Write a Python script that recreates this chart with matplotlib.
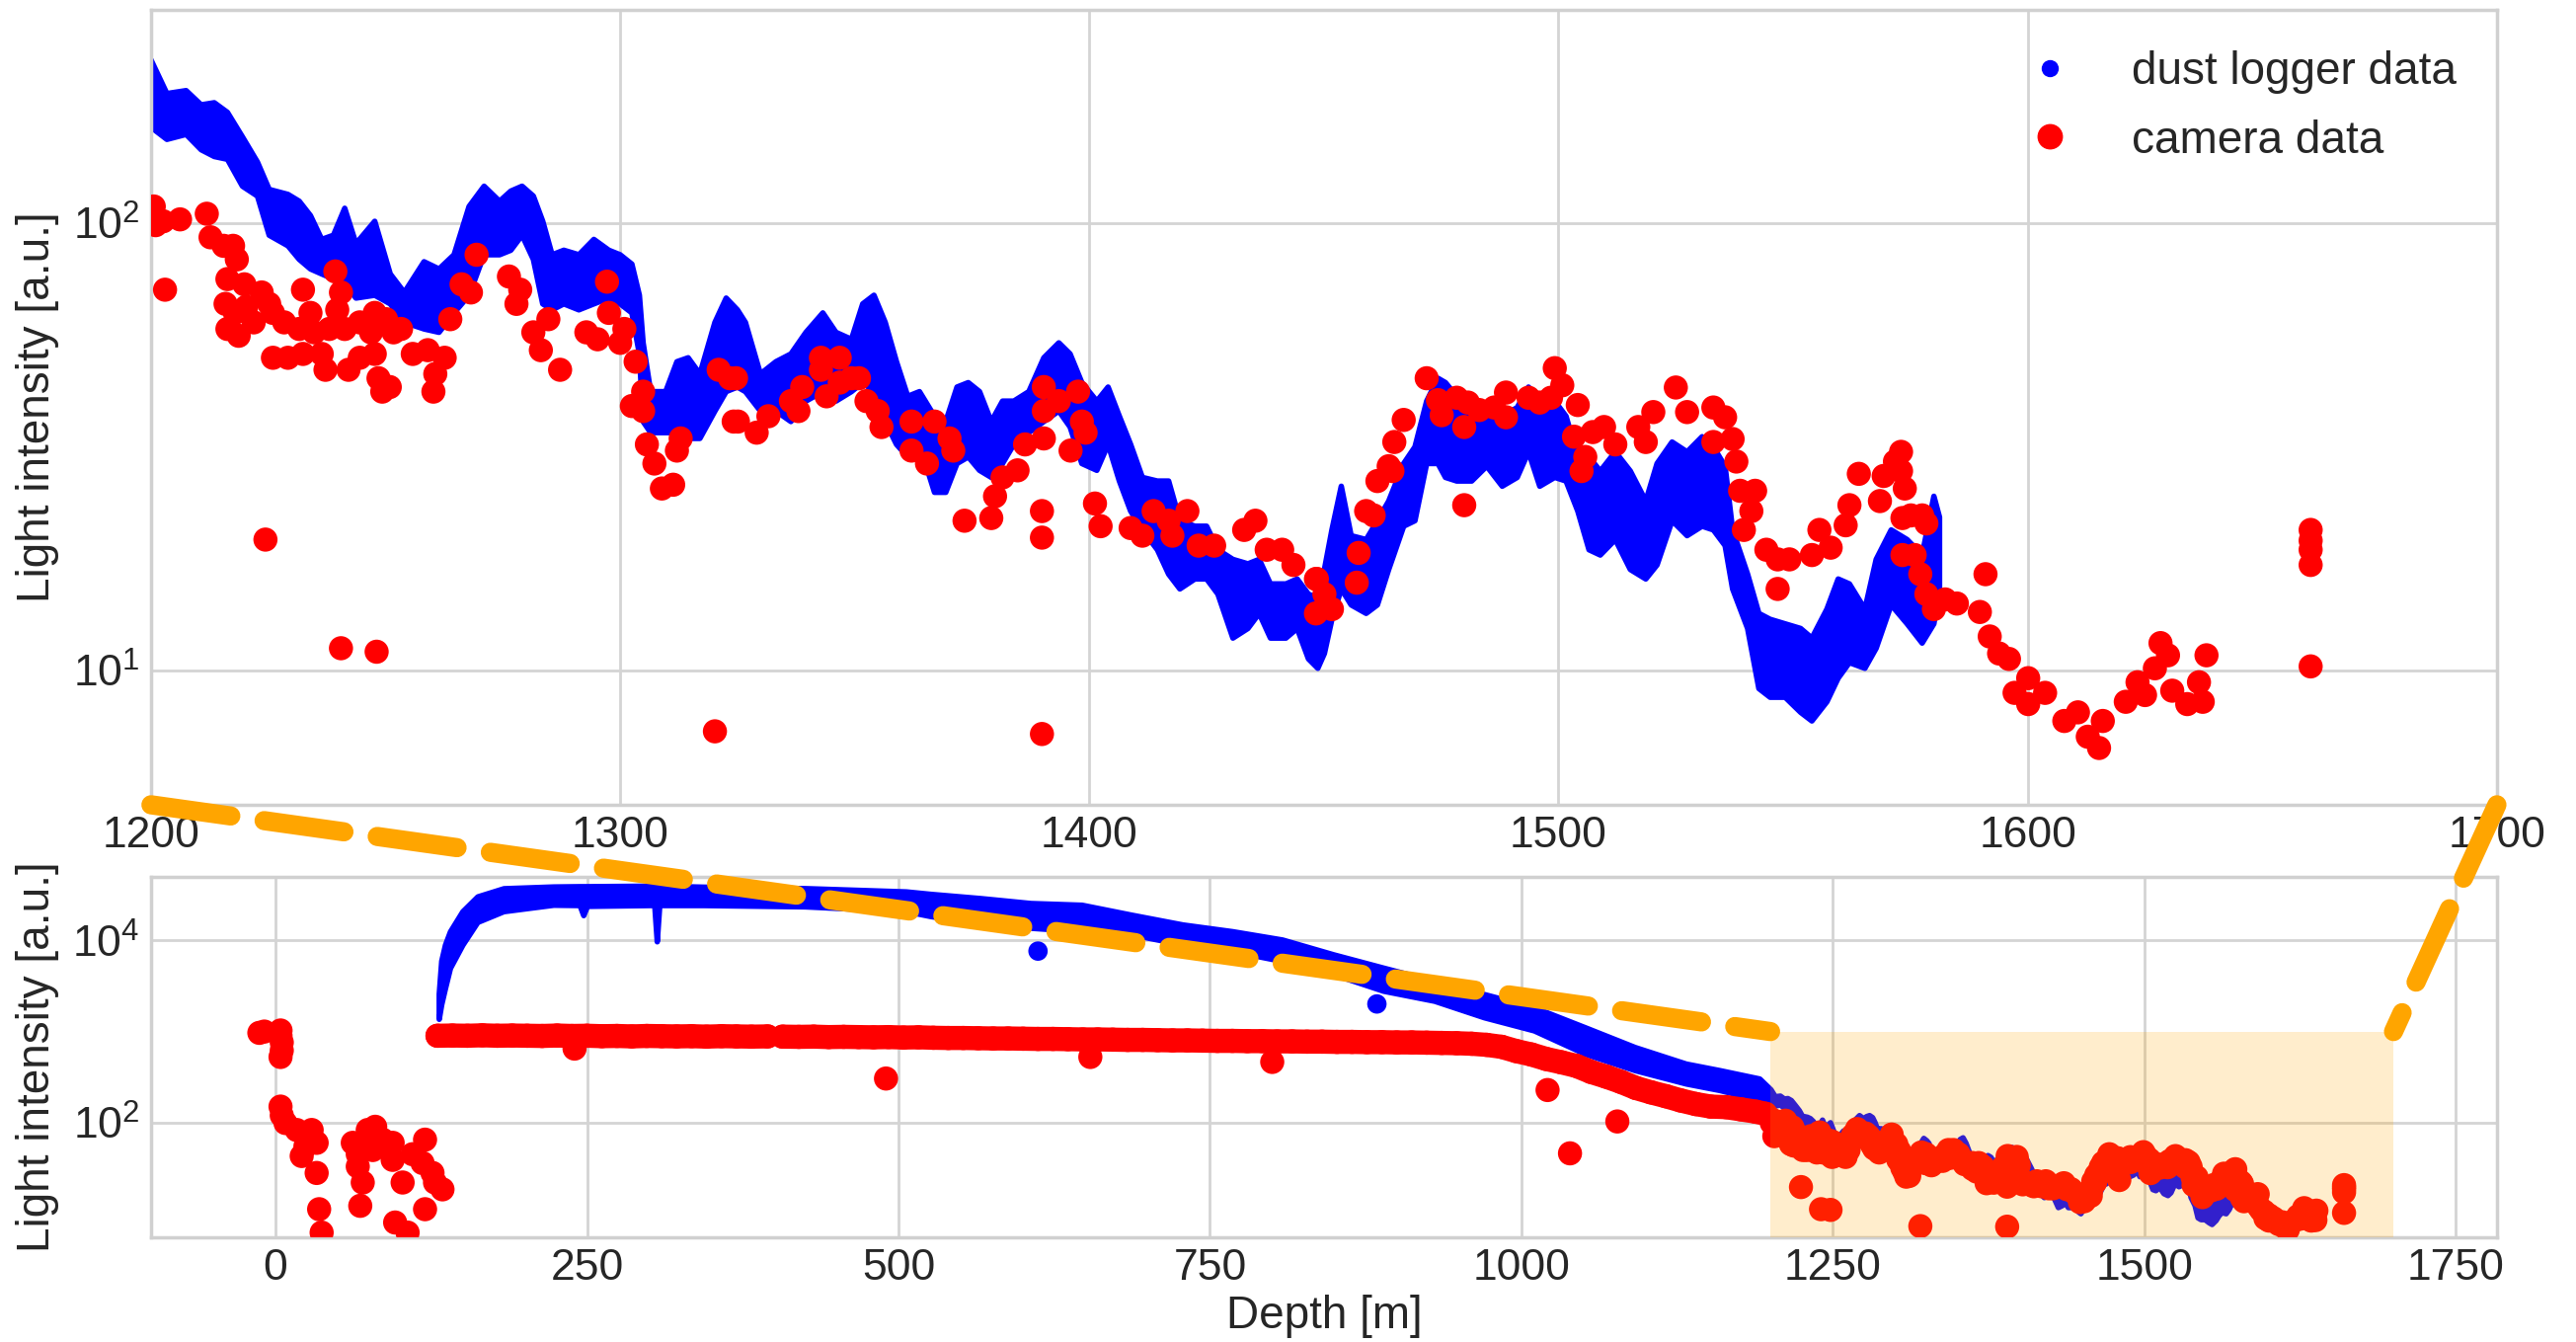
import numpy as np
import matplotlib
matplotlib.use("Agg")
import matplotlib.pyplot as plt
from matplotlib.patches import Rectangle, ConnectionPatch
from matplotlib.lines import Line2D

# --- data ------------------------------------------------------------------
# dust logger: depth [m], lower and upper edge of the (dense) point band [a.u.]
dust_shallow = [
    (131, 1380, 2600), (133, 2000, 6000), (136, 3000, 9000), (140, 5000, 12600),
    (150, 9000, 21000), (162, 16000, 30500), (183, 21000, 37500), (223, 24700, 39200),
    (244, 24500, 39500), (247, 19000, 39500), (250, 24000, 39500), (300, 24500, 40000),
    (304, 24500, 40000), (306, 9800, 40000), (308, 24500, 40000), (344, 24500, 39000),
    (425, 23700, 37600), (506, 21000, 34600), (526, 18500, 32500), (566, 15600, 29200),
    (606, 13800, 25800), (647, 12650, 24700), (687, 11650, 19200), (728, 9060, 15000),
    (768, 7650, 12650), (808, 5960, 10250), (849, 4270, 7050), (889, 2810, 5040),
    (930, 2180, 3600), (970, 1435, 2580), (1010, 1030, 1850), (1051, 571, 1115),
    (1091, 377, 676), (1132, 269, 445), (1159, 228, 377), (1191, 177, 305),
]
dust_deep = [
    (1200.0, 164, 232), (1203.4, 154, 195), (1207.5, 158, 198), (1210.7, 146, 184),
    (1213.5, 141, 186), (1216.3, 139, 177), (1219.5, 121, 156), (1222.7, 115, 137),
    (1225.2, 94, 119), (1229.2, 89, 116), (1231.6, 83, 112), (1234.0, 79, 104),
    (1236.4, 77, 92), (1238.9, 75, 94), (1241.3, 73, 108), (1243.7, 68, 90),
    (1247.7, 69, 101), (1251.0, 66, 77), (1254.0, 60, 70), (1258.2, 58, 82),
    (1261.4, 57, 79), (1264.6, 63, 85), (1267.8, 69, 109), (1271.0, 85, 121),
    (1274.3, 85, 112), (1276.7, 87, 118), (1279.1, 94, 121), (1281.5, 83, 115),
    (1283.5, 66, 101), (1285.5, 64, 85), (1288.0, 66, 87), (1291.2, 64, 85),
    (1294.4, 66, 92), (1297.6, 68, 87), (1300.0, 66, 85), (1302.5, 63, 81),
    (1304.1, 51, 69), (1304.9, 36, 54), (1306.5, 34, 42), (1309.7, 34, 42),
    (1312.1, 34, 49), (1314.5, 33, 50), (1317.0, 33, 46), (1320.2, 38, 60),
    (1322.6, 42, 68), (1325.0, 43, 64), (1326.7, 42, 60), (1329.9, 38, 46),
    (1333.2, 38, 49), (1336.4, 36, 51), (1339.6, 40, 57), (1343.2, 42, 63),
    (1346.0, 40, 57), (1349.3, 42, 55), (1351.7, 44, 66), (1354.1, 42, 69),
    (1356.5, 36, 60), (1358.9, 32, 49), (1361.3, 30, 41), (1363.8, 32, 42),
    (1367.0, 25, 37), (1369.4, 25, 36), (1371.8, 29, 43), (1374.2, 30, 44),
    (1376.6, 28, 42), (1379.1, 27, 36), (1381.5, 29, 40), (1383.9, 32, 40),
    (1387.1, 34, 42), (1390.3, 36, 50), (1393.5, 38, 54), (1395.9, 35, 51),
    (1398.4, 29, 44), (1401.6, 28, 40), (1404.0, 32, 43), (1406.4, 26.5, 37),
    (1408.8, 22.7, 32), (1411.3, 20.6, 27), (1414.5, 18.6, 26.5), (1416.9, 16.4, 26.5),
    (1419.3, 15.2, 21.6), (1422.5, 16, 21), (1425.0, 16, 21), (1427.4, 14.8, 18.6),
    (1430.6, 11.8, 17.7), (1433.8, 12.4, 17.3), (1436.2, 13.4, 17.7), (1438.6, 11.8, 15.6),
    (1441.9, 11.8, 15.6), (1444.3, 12.4, 16), (1446.7, 10.6, 14.8), (1448.7, 10.1, 14.5),
    (1450.1, 10.9, 16.8), (1451.7, 13, 20.6), (1453.7, 15.2, 25.8), (1455.8, 14, 20),
    (1459.0, 13.4, 19.6), (1461.4, 14, 21.6), (1463.8, 16.8, 23.9), (1467.0, 21, 29),
    (1469.4, 21.6, 31.6), (1471.9, 29, 40), (1474.3, 29, 45), (1475.9, 27, 44),
    (1478.3, 26.5, 41), (1481.5, 26.5, 38), (1484.7, 28.6, 38), (1488.0, 25.8, 37),
    (1491.2, 27, 38.7), (1493.6, 30.8, 43), (1496.0, 25.8, 40), (1499.2, 27, 40),
    (1501.6, 26.5, 37), (1504.1, 22.7, 30), (1506.5, 18.6, 30), (1508.9, 18.1, 27.9),
    (1512.1, 19.6, 30.8), (1515.3, 16.8, 27.9), (1518.6, 16, 23.9), (1521.0, 17.2, 29),
    (1524.2, 21.6, 32.4), (1527.4, 20, 30.8), (1530.6, 21, 33.3), (1533.0, 20.6, 31.6),
    (1535.5, 19, 28.6), (1537.1, 15.2, 20.6), (1540.3, 12.4, 16.4), (1542.7, 9.1, 13.4),
    (1545.1, 8.7, 13), (1548.3, 8.7, 12.7), (1551.6, 8.05, 12.4), (1554.0, 7.7, 11.8),
    (1557.2, 8.5, 13.7), (1559.6, 9.6, 16), (1562.0, 10.4, 15.6), (1565.3, 10.1, 13.7),
    (1567.7, 11.2, 17.7), (1570.9, 14, 20.6), (1574.3, 12.7, 19.6), (1577.5, 11.5, 18.1),
    (1580.0, 12.7, 24.5), (1581.2, 15.2, 22),
]
# isolated dust logger points
dust_outliers = [(612, 7650), (884, 2010)]

# camera: depth [m], light intensity [a.u.]
camera_shallow = [
    (-13, 968), (-9, 1000), (4, 1028), (4, 900), (5, 760), (5, 620), (4, 526),
    (4, 150), (5, 120), (8, 99), (17, 83), (29, 83), (33, 60), (21, 43), (24, 55),
    (33, 28), (35, 11.2), (37, 6.2), (62, 60), (66, 45), (66, 33), (70, 22),
    (68, 12.2), (74, 83), (74, 71), (78, 50), (80, 90), (86, 65), (94, 60), (94, 39),
    (96, 8), (102, 22), (106, 6.2), (110, 45), (118, 36), (120, 65), (120, 11.2),
    (126, 28), (128, 22), (134, 18.5),
]
# continuous band of camera readings (gap between 396 m and 406 m)
camera_plateau_a = [
    (130, 900), (142, 905), (154, 900), (166, 910), (178, 900), (190, 905), (202, 900),
    (214, 895), (226, 905), (238, 895), (250, 900), (262, 890), (274, 895),
    (286, 885), (298, 895), (310, 890), (322, 885), (334, 890), (346, 880), (358, 890),
    (370, 885), (382, 880), (395, 885),
]
camera_plateau_b = [
    (407, 880), (420, 875), (432, 880), (444, 870),
    (456, 875), (468, 870), (480, 865), (492, 870), (504, 860), (516, 865),
    (528, 855), (540, 850), (552, 850), (564, 845), (576, 840), (588, 840), (600, 835),
    (612, 830), (624, 830), (636, 825), (648, 820), (660, 820), (672, 815),
    (684, 810), (696, 810), (708, 805), (720, 800), (732, 800), (744, 795), (756, 790),
    (768, 790), (780, 785), (792, 785), (804, 780), (816, 780), (828, 775),
    (840, 775), (852, 770), (864, 770), (876, 765), (888, 765), (900, 760), (912, 760),
    (924, 755), (936, 750), (948, 745), (960, 735), (972, 715), (984, 680), (996, 610),
    (1008, 560), (1020, 500), (1032, 460), (1044, 420), (1056, 360), (1068, 320),
    (1080, 280), (1092, 240), (1104, 215), (1116, 195), (1128, 175), (1140, 160),
    (1152, 150), (1164, 148), (1176, 140), (1188, 132), (1196, 125),
]
camera_outliers = [
    (240, 650), (490, 305), (654, 526), (800, 464), (1021, 228), (1039, 46), (1077, 103),
]
camera_deep = [
    (1200.6, 109), (1201.0, 99), (1203.0, 71), (1202.6, 101), (1206.2, 102), (1211.9, 105),
    (1212.7, 93), (1215.5, 89), (1217.5, 89), (1218.3, 83), (1216.3, 75), (1219.9, 73),
    (1215.9, 66), (1217.9, 63), (1220.3, 65), (1223.6, 70), (1225.2, 66), (1216.3, 58),
    (1218.7, 56), (1221.9, 60), (1226.0, 63), (1228.4, 60), (1231.6, 58), (1232.4, 71),
    (1234.0, 63), (1234.8, 57), (1238.0, 58), (1239.7, 64), (1239.3, 78), (1240.5, 70),
    (1241.3, 58), (1244.5, 60), (1246.9, 57), (1247.7, 63), (1250.1, 61), (1251.7, 57),
    (1253.3, 58), (1226.0, 50), (1229.2, 50), (1232.4, 51), (1236.4, 51), (1237.2, 47),
    (1242.1, 47), (1244.5, 50), (1247.7, 51), (1248.5, 45), (1249.3, 42), (1250.9, 43),
    (1255.8, 51), (1259.0, 52), (1260.6, 46), (1260.2, 42), (1262.6, 50), (1263.8, 61),
    (1266.2, 73), (1268.2, 70), (1269.4, 85), (1276.3, 76), (1278.7, 71), (1277.9, 66),
    (1281.5, 57), (1283.1, 52), (1284.7, 61), (1287.2, 47), (1297.2, 74), (1292.8, 57),
    (1295.2, 55), (1297.6, 63), (1300.9, 58), (1300.0, 54), (1303.3, 49), (1304.9, 42),
    (1302.5, 39), (1304.9, 38), (1305.7, 32), (1307.3, 29), (1308.9, 25.5), (1311.3, 26),
    (1312.9, 33), (1312.1, 31), (1321.0, 47), (1323.4, 45), (1324.2, 36), (1224.4, 19.6),
    (1240.5, 11.2), (1248.1, 11.0), (1320.2, 7.3),
    (1324.7, 45), (1325.1, 36), (1329.1, 34), (1331.6, 37), (1336.4, 40), (1338.0, 38),
    (1338.8, 43), (1342.8, 50), (1342.8, 47), (1344.0, 41), (1346.8, 50), (1346.8, 44),
    (1349.3, 45), (1350.9, 45), (1352.5, 40), (1354.9, 38), (1355.7, 35), (1362.1, 36),
    (1362.1, 31), (1365.4, 29), (1367.0, 36), (1370.2, 33), (1371.0, 31), (1373.4, 21.6),
    (1379.1, 21.9), (1379.9, 24.5), (1381.5, 27), (1384.7, 28), (1386.3, 32), (1390.3, 43),
    (1390.3, 38), (1390.3, 33), (1393.5, 40), (1396.0, 31), (1398.4, 36), (1397.6, 42),
    (1399.2, 34), (1389.9, 22.7), (1389.9, 19.8), (1401.2, 23.6), (1402.4, 21),
    (1408.8, 20.8), (1411.3, 20), (1413.7, 22.7), (1416.9, 21.6), (1417.7, 20),
    (1420.9, 22.7), (1423.3, 19), (1426.6, 19), (1433.0, 20.6), (1435.4, 21.6),
    (1437.8, 18.6), (1441.1, 18.6), (1443.5, 17.2), (1448.3, 16), (1448.3, 13.4),
    (1389.9, 7.2),
    (1448.5, 16), (1450.1, 14.8), (1451.7, 13.7), (1457.4, 18.3), (1457.0, 15.7),
    (1459.0, 22.7), (1460.6, 22.2), (1461.4, 26.5), (1464.6, 27.9), (1463.8, 28.6),
    (1465.0, 32.4), (1467.0, 36.3), (1471.9, 45), (1474.3, 40.2), (1475.1, 37.2),
    (1478.3, 40.7), (1479.9, 35), (1480.7, 39.7), (1483.1, 38.2), (1486.3, 38.7),
    (1488.8, 41.8), (1488.8, 36.8), (1493.6, 40.7), (1496.0, 39.7), (1498.4, 40.7),
    (1499.2, 47.4), (1500.8, 43.4), (1504.1, 39.2), (1503.3, 33.3), (1505.7, 30),
    (1504.9, 27.9), (1507.3, 34.1), (1509.7, 35), (1512.1, 32), (1517.0, 35),
    (1518.6, 32.4), (1520.2, 37.8), (1525.0, 42.9), (1527.4, 37.8), (1533.0, 38.7),
    (1535.5, 36.8), (1533.0, 32.4), (1537.1, 32.9), (1537.9, 29.3), (1538.7, 25.2),
    (1541.9, 25.2), (1541.1, 22.7), (1539.5, 20.6), (1544.3, 18.6), (1546.7, 17.7),
    (1549.2, 17.7), (1546.7, 15.2), (1554.0, 18.1), (1555.6, 20.6), (1558.0, 18.8),
    (1561.2, 21.1), (1562.0, 23.4), (1564.0, 27.5), (1568.5, 23.9), (1569.3, 27.2),
    (1571.7, 29.3), (1573.3, 21.9), (1573.3, 18.1), (1479.9, 23.4),
    (1573.0, 30.8), (1573.0, 27.9), (1573.8, 25.5), (1575.1, 22.2), (1577.5, 22.2),
    (1578.4, 21.3), (1575.9, 18.1), (1577.1, 16.4), (1578.4, 14.8), (1580.0, 13.7),
    (1582.4, 14.4), (1584.9, 14.1), (1591.0, 16.4), (1589.8, 13.5), (1591.9, 11.9),
    (1593.9, 10.9), (1596.0, 10.6), (1597.2, 8.9), (1600.1, 9.6), (1600.1, 8.4),
    (1603.7, 8.9), (1607.8, 7.7), (1610.7, 8.05), (1612.8, 7.1), (1615.2, 6.7),
    (1616.0, 7.7), (1620.9, 8.5), (1623.4, 9.4), (1625.0, 8.8), (1627.1, 10.1),
    (1628.3, 11.5), (1629.9, 10.8), (1630.8, 9.0), (1634.0, 8.4), (1636.5, 9.4),
    (1637.3, 8.5), (1638.1, 10.8), (1660.3, 20.6), (1660.3, 19.5), (1660.3, 18.6),
    (1660.3, 17.2), (1660.3, 10.2),
]

zoom_range = (1200, 1700)
zoom_top = 1000

# --- arrays -----------------------------------------------------------------
dust = np.array(dust_shallow + dust_deep, dtype=float)
dust_depth, dust_low, dust_high = dust[:, 0], dust[:, 1], dust[:, 2]
dust_out = np.array(dust_outliers, dtype=float)
cam = np.array(camera_shallow + camera_plateau_a + camera_plateau_b
               + camera_outliers + camera_deep, dtype=float)
cam_depth, cam_value = cam[:, 0], cam[:, 1]

plt.style.use("seaborn-v0_8-whitegrid")
plt.rcParams["font.family"] = ["Liberation Sans", "DejaVu Sans"]
plt.rcParams["axes.edgecolor"] = "#d0d0d0"
plt.rcParams["axes.linewidth"] = 2.5
plt.rcParams["grid.color"] = "#d4d4d4"
plt.rcParams["grid.linewidth"] = 2.0

fig = plt.figure(figsize=(26.09, 13.59), dpi=100)
ax_top = fig.add_axes([0.0586, 0.4003, 0.9107, 0.5923])
ax_bot = fig.add_axes([0.0586, 0.0780, 0.9107, 0.2686])

red_size = 310
for ax in (ax_top, ax_bot):
    ax.fill_between(dust_depth, dust_low, dust_high, color="blue",
                    edgecolor="blue", linewidth=4, zorder=2)
    ax.scatter(cam_depth, cam_value, s=red_size, color="red",
               edgecolors="none", zorder=3)
    ax.set_yscale("log")
    ax.tick_params(axis="both", labelsize=32, pad=8, length=0)
    ax.set_ylabel("Light intensity [a.u.]", fontsize=33, labelpad=10)

# the dense camera band: join neighbouring readings so it reads as one band
for seg in (camera_plateau_a, camera_plateau_b):
    seg = np.array(seg, dtype=float)
    ax_bot.plot(seg[:, 0], seg[:, 1], color="red", linewidth=np.sqrt(red_size),
                solid_capstyle="round", zorder=3)

ax_bot.scatter(dust_out[:, 0], dust_out[:, 1], s=200, color="blue",
               edgecolors="none", zorder=2)

ax_top.set_xlim(*zoom_range)
ax_top.set_ylim(5.0, 300)
ax_top.set_xticks([1200, 1300, 1400, 1500, 1600, 1700])

ax_bot.set_xlim(-100, 1783)
ax_bot.set_ylim(5.5, 5e4)
ax_bot.set_yticks([1e2, 1e4])
ax_bot.set_xticks([0, 250, 500, 750, 1000, 1250, 1500, 1750])
ax_bot.set_xlabel("Depth [m]", fontsize=33, labelpad=4)

# zoomed region in the overview panel
lo = ax_bot.get_ylim()[0]
ax_bot.add_patch(Rectangle((zoom_range[0], lo), zoom_range[1] - zoom_range[0],
                           zoom_top - lo, facecolor="orange", alpha=0.2,
                           edgecolor="none", zorder=4))
for corner, xval in ((0, zoom_range[0]), (1, zoom_range[1])):
    con = ConnectionPatch(xyA=(corner, 0), coordsA=ax_top.transAxes,
                          xyB=(xval, zoom_top), coordsB=ax_bot.transData,
                          color="orange", linewidth=14,
                          linestyle=(0, (4.2, 1.75)), capstyle="round", zorder=5)
    fig.add_artist(con)

handles = [
    Line2D([], [], marker="o", linestyle="none", color="blue", markersize=11.5),
    Line2D([], [], marker="o", linestyle="none", color="red", markersize=17.6),
]
ax_top.legend(handles, ["dust logger data", "camera data"], loc="upper right",
              fontsize=33, frameon=False, labelspacing=0.55, handletextpad=0.8)

fig.savefig("out.png", dpi=100)
